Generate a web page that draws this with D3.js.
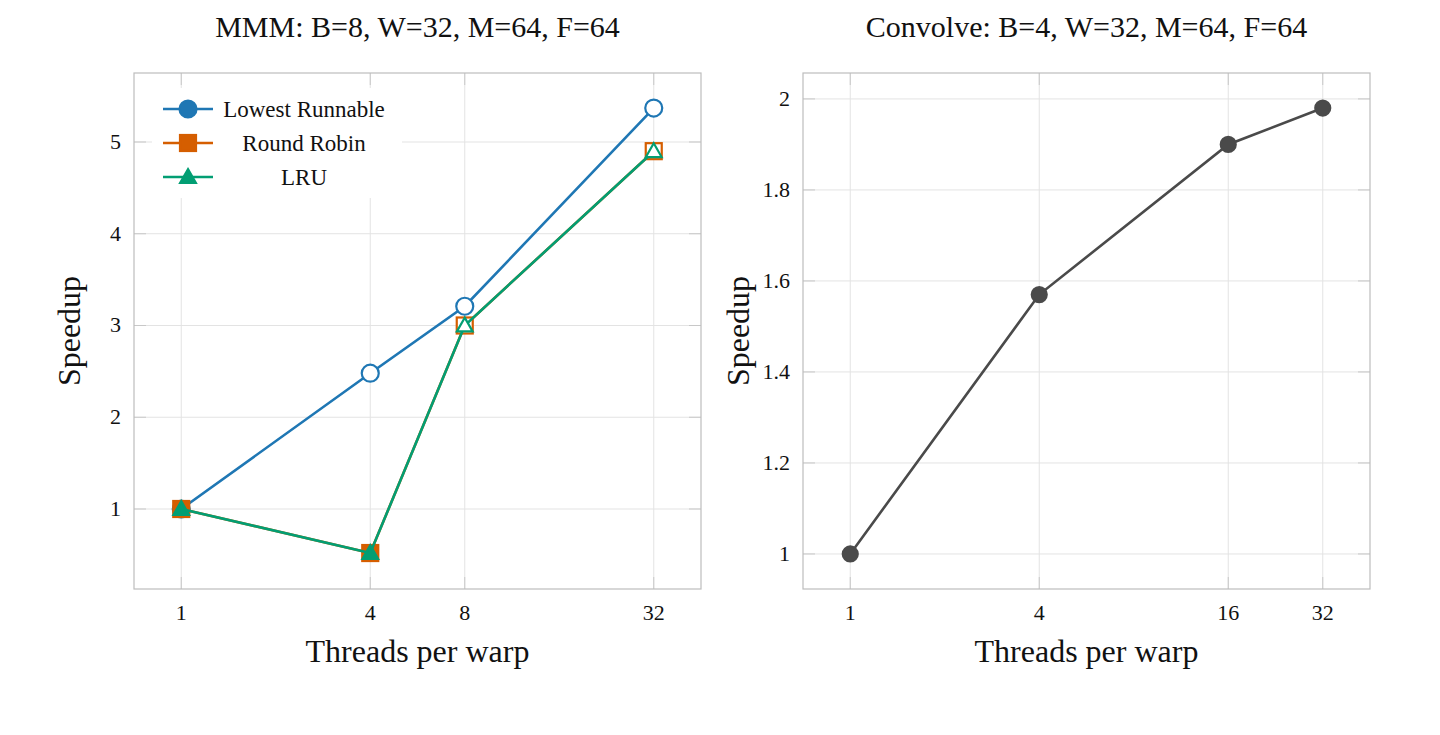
<!DOCTYPE html>
<html>
<head>
<meta charset="utf-8">
<script src="https://cdn.jsdelivr.net/npm/d3@7"></script>
<style>
  body { margin: 0; background: #fff; }
  svg { font-family: "Liberation Serif", "DejaVu Serif", serif; }
</style>
</head>
<body>
<svg id="canvas" width="1440" height="735"></svg>
<script>
// data
const leftThreads = [1, 4, 8, 32]
const lowestRunnable = [1, 2.48, 3.21, 5.37]
const roundRobin = [1, 0.52, 3.0, 4.9]
const lru = [1, 0.52, 3.0, 4.9]
const lowestFilled = [true, false, false, false]
const rrFilled = [true, true, false, false]
const lruFilled = [true, true, false, false]
const leftYTicks = [1, 2, 3, 4, 5]

const rightThreads = [1, 4, 16, 32]
const convolveSpeedup = [1, 1.57, 1.90, 1.98]
const rightYTicks = [1, 1.2, 1.4, 1.6, 1.8, 2]

const svg = d3.select('#canvas')

let drawPanel = (opts) => {
    let x = d3.scaleLog().base(2).domain([Math.pow(2, -0.5), Math.pow(2, 5.5)]).range([opts.left, opts.left + 567])
    let y = d3.scaleLinear().domain(opts.yDomain).range([589, 73])
    let g = svg.append('g')

    // grid
    g.selectAll('.gx').data(opts.xTicks).enter().append('line')
        .attr('x1', d => x(d)).attr('x2', d => x(d)).attr('y1', 73).attr('y2', 589)
        .attr('stroke', '#e3e3e3').attr('stroke-width', 1)
    g.selectAll('.gy').data(opts.yTicks).enter().append('line')
        .attr('x1', opts.left).attr('x2', opts.left + 567).attr('y1', d => y(d)).attr('y2', d => y(d))
        .attr('stroke', '#e3e3e3').attr('stroke-width', 1)

    // inward ticks on all sides
    let tl = 12
    opts.xTicks.forEach(d => {
        g.append('line').attr('x1', x(d)).attr('x2', x(d)).attr('y1', 589).attr('y2', 589 - tl).attr('stroke', '#c8c8c8')
        g.append('line').attr('x1', x(d)).attr('x2', x(d)).attr('y1', 73).attr('y2', 73 + tl).attr('stroke', '#c8c8c8')
    })
    opts.yTicks.forEach(d => {
        g.append('line').attr('x1', opts.left).attr('x2', opts.left + tl).attr('y1', y(d)).attr('y2', y(d)).attr('stroke', '#c8c8c8')
        g.append('line').attr('x1', opts.left + 567 - tl).attr('x2', opts.left + 567).attr('y1', y(d)).attr('y2', y(d)).attr('stroke', '#c8c8c8')
    })

    g.append('rect').attr('x', opts.left).attr('y', 73).attr('width', 567).attr('height', 516)
        .attr('fill', 'none').attr('stroke', '#bdbdbd').attr('stroke-width', 1.2)

    // tick labels
    g.selectAll('.xl').data(opts.xTicks).enter().append('text')
        .attr('x', d => x(d)).attr('y', 620).attr('text-anchor', 'middle')
        .attr('font-size', 22).attr('fill', '#111').text(d => d)
    g.selectAll('.yl').data(opts.yTicks).enter().append('text')
        .attr('x', opts.left - 13).attr('y', d => y(d) + 7).attr('text-anchor', 'end')
        .attr('font-size', 22).attr('fill', '#111').text(d => d)

    // titles
    g.append('text').attr('x', opts.left + 283.5).attr('y', 37).attr('text-anchor', 'middle')
        .attr('font-size', 30).attr('fill', '#111').text(opts.title)
    g.append('text').attr('x', opts.left + 283.5).attr('y', 662).attr('text-anchor', 'middle')
        .attr('font-size', 32).attr('fill', '#111').text('Threads per warp')
    g.append('text').attr('transform', 'translate(' + (opts.left - 54) + ',' + 331 + ') rotate(-90)')
        .attr('text-anchor', 'middle').attr('font-size', 32).attr('fill', '#111').text('Speedup')

    return { x: x, y: y, g: g }
}

let drawMarker = (g, shape, cx, cy, color, filled, size) => {
    let fill = filled ? color : '#fff'
    if (shape === 'circle') {
        g.append('circle').attr('cx', cx).attr('cy', cy).attr('r', size)
            .attr('fill', fill).attr('stroke', color).attr('stroke-width', 2.2)
    } else if (shape === 'square') {
        g.append('rect').attr('x', cx - size).attr('y', cy - size).attr('width', size * 2).attr('height', size * 2)
            .attr('fill', fill).attr('stroke', color).attr('stroke-width', 2.2)
    } else {
        let s = size * 1.05
        let pts = [[cx, cy - s], [cx + s, cy + s * 0.75], [cx - s, cy + s * 0.75]]
        g.append('polygon').attr('points', pts.map(p => p.join(',')).join(' '))
            .attr('fill', fill).attr('stroke', color).attr('stroke-width', 2.2)
    }
}

let drawSeries = (p, xs, ys, filled, color, shape, size) => {
    let line = d3.line().x(d => p.x(d[0])).y(d => p.y(d[1]))
    p.g.append('path').datum(xs.map((d, i) => [d, ys[i]]))
        .attr('d', line).attr('fill', 'none').attr('stroke', color).attr('stroke-width', 2.6)
    xs.forEach((d, i) => drawMarker(p.g, shape, p.x(d), p.y(ys[i]), color, filled[i], size))
}

// left panel
let left = drawPanel({
    left: 134, title: 'MMM: B=8, W=32, M=64, F=64',
    xTicks: leftThreads, yTicks: leftYTicks, yDomain: [0.128, 5.752]
})
const series = [
    { name: 'Lowest Runnable', values: lowestRunnable, filled: lowestFilled, color: '#1f77b4', shape: 'circle', size: 8.5 },
    { name: 'Round Robin', values: roundRobin, filled: rrFilled, color: '#d55e00', shape: 'square', size: 8 },
    { name: 'LRU', values: lru, filled: lruFilled, color: '#029e73', shape: 'triangle', size: 7.5 }
]
series.forEach(s => drawSeries(left, leftThreads, s.values, s.filled, s.color, s.shape, s.size))

// legend
let lg = left.g.append('g')
lg.append('rect').attr('x', 152).attr('y', 88).attr('width', 250).attr('height', 110).attr('fill', '#fff')
series.forEach((s, i) => {
    let ly = 109 + i * 34
    lg.append('line').attr('x1', 163).attr('x2', 213).attr('y1', ly).attr('y2', ly)
        .attr('stroke', s.color).attr('stroke-width', 2.6)
    drawMarker(lg, s.shape, 188, ly, s.color, true, s.size)
    lg.append('text').attr('x', 304).attr('y', ly + 8).attr('text-anchor', 'middle')
        .attr('font-size', 23).attr('fill', '#111').text(s.name)
})

// right panel
let right = drawPanel({
    left: 803, title: 'Convolve: B=4, W=32, M=64, F=64',
    xTicks: rightThreads, yTicks: rightYTicks, yDomain: [0.923, 2.057]
})
drawSeries(right, rightThreads, convolveSpeedup, [true, true, true, true], '#4a4a4a', 'circle', 7.5)
</script>
</body>
</html>
